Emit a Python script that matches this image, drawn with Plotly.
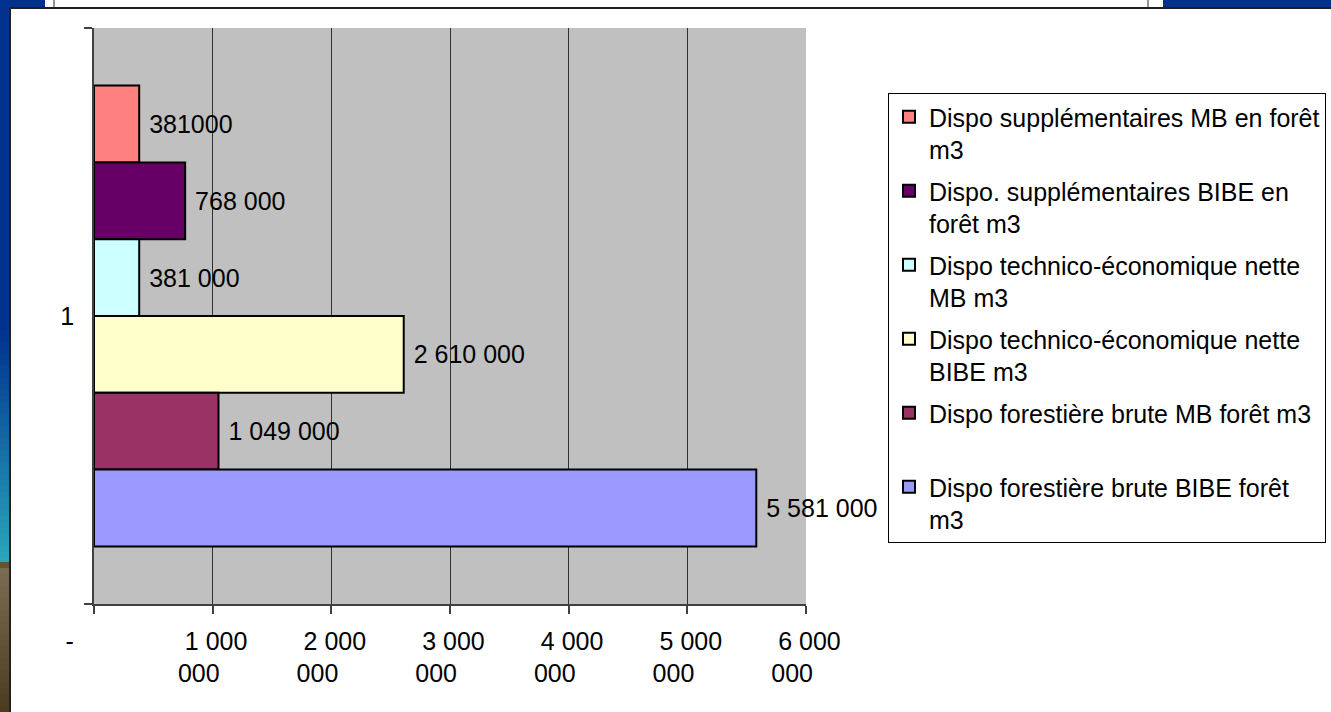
import plotly.graph_objects as go

# ---------------- data ----------------
CATEGORY = ["1"]
SERIES_NAMES = [
    "Dispo supplémentaires MB en forêt<br>m3",
    "Dispo. supplémentaires BIBE en<br>forêt m3",
    "Dispo technico-économique nette<br>MB m3",
    "Dispo technico-économique nette<br>BIBE m3",
    "Dispo forestière brute MB forêt m3<br>\u00a0",
    "Dispo forestière brute BIBE forêt<br>m3",
]
VALUES = [381000, 768000, 381000, 2610000, 1049000, 5581000]
VALUE_LABELS = ["381000", "768 000", "381 000", "2 610 000", "1 049 000", "5 581 000"]
COLORS = ["#FF8080", "#660066", "#CCFFFF", "#FFFFCC", "#993366", "#9999FF"]
X_TICKS = [0, 1000000, 2000000, 3000000, 4000000, 5000000, 6000000]
X_TICK_LABELS = ["-", "1 000 000", "2 000 000", "3 000 000", "4 000 000", "5 000 000", "6 000 000"]

# ---------------- layout constants (pixels) ----------------
W, H = 1331, 712
PL, PR, PT, PB = 94, 806, 28, 604
FONT = "Liberation Sans, Arial, sans-serif"
FS = 25
NB = "\u00a0"


def fmt_tick(lbl):
    if lbl == "-":
        return "-" + NB * 7
    first, rest = lbl[:-4], lbl[-3:]
    return NB + first + "<br>" + rest + NB * 4


def px_x(p):
    return (p - PL) / (PR - PL)


def px_y(p):
    return (PB - p) / (PB - PT)


fig = go.Figure()
for name, val, lab, col in zip(SERIES_NAMES, VALUES, VALUE_LABELS, COLORS):
    fig.add_trace(go.Bar(
        y=CATEGORY, x=[val], orientation="h", name=name,
        marker=dict(color=col, line=dict(color="#000000", width=2)),
        text=[lab], texttemplate=NB + "%{text}", textposition="outside",
        textfont=dict(family=FONT, size=FS, color="#000000"),
        constraintext="none", cliponaxis=False, legendgroup=name,
        hoverinfo="x+name",
    ))

# ---------------- decorative slide frame ----------------
shapes = []


def rect(x0, y0, x1, y1, color):
    shapes.append(dict(type="rect", xref="paper", yref="paper",
                       x0=px_x(x0), x1=px_x(x1), y0=px_y(y0), y1=px_y(y1),
                       fillcolor=color, line=dict(width=0), layer="above"))


def lerp(c1, c2, t):
    a = [int(c1[i:i + 2], 16) for i in (1, 3, 5)]
    b = [int(c2[i:i + 2], 16) for i in (1, 3, 5)]
    return "#%02x%02x%02x" % tuple(round(a[k] + (b[k] - a[k]) * t) for k in range(3))


def gradient(stops, y_start, y_end, step=6):
    y = y_start
    while y < y_end:
        yc = y + step / 2
        col = stops[-1][1]
        for (ya, ca), (yb, cb) in zip(stops[:-1], stops[1:]):
            if ya <= yc <= yb:
                col = lerp(ca, cb, (yc - ya) / (yb - ya))
                break
        rect(0, y, 10, min(y + step, y_end), col)
        y += step


gradient([(0, "#00318E"), (330, "#00318E"), (560, "#29A6BA")], 0, 562)
gradient([(562, "#3F2D10"), (567, "#7A6B52"), (610, "#6E5E44"), (712, "#4A3A1E")], 562, 712)
# top band
rect(0, 0, 45, 8, "#00318E")
rect(1163, 0, W, 8, "#00318E")
for xl in (54, 1148):
    shapes.append(dict(type="line", xref="paper", yref="paper", x0=px_x(xl), x1=px_x(xl),
                       y0=px_y(0), y1=px_y(8), line=dict(color="#707070", width=1.5), layer="above"))
shapes.append(dict(type="line", xref="paper", yref="paper", x0=px_x(10), x1=px_x(W),
                   y0=px_y(8), y1=px_y(8), line=dict(color="#202020", width=2), layer="above"))
shapes.append(dict(type="line", xref="paper", yref="paper", x0=px_x(10), x1=px_x(10),
                   y0=px_y(8), y1=px_y(H), line=dict(color="#202020", width=2), layer="above"))

fig.update_layout(
    width=W, height=H,
    margin=dict(l=PL, r=W - PR, t=PT, b=H - PB, pad=0, autoexpand=False),
    paper_bgcolor="#FFFFFF", plot_bgcolor="#C0C0C0",
    font=dict(family=FONT, size=FS, color="#000000"),
    barmode="group", bargap=0.2, bargroupgap=0,
    showlegend=True,
    legend=dict(
        x=px_x(888), y=px_y(93), xanchor="left", yanchor="top",
        bgcolor="#FFFFFF", bordercolor="#000000", borderwidth=1,
        font=dict(family=FONT, size=FS, color="#000000"),
        valign="top", tracegroupgap=6, traceorder="grouped",
    ),
    shapes=shapes,
    xaxis=dict(
        range=[0, 6000000], tickmode="array", tickvals=X_TICKS,
        ticktext=[fmt_tick(t) for t in X_TICK_LABELS],
        showgrid=True, gridcolor="#303030", gridwidth=1,
        zeroline=False, showline=True, linecolor="#404040", linewidth=1.5,
        ticks="outside", ticklen=8, tickcolor="#404040", tickwidth=1.5,
        ticklabelstandoff=6,
        tickfont=dict(family=FONT, size=FS, color="#000000"),
        fixedrange=True,
    ),
    yaxis=dict(
        type="category", autorange="reversed",
        showgrid=False, zeroline=False, showline=True, linecolor="#404040", linewidth=1.5,
        ticks="outside", ticklen=8, tickcolor="#404040", tickwidth=1.5,
        tickson="boundaries", ticklabelstandoff=13,
        tickfont=dict(family=FONT, size=FS, color="#000000"),
        fixedrange=True,
    ),
)

fig.write_html("out.html", config={"displayModeBar": False},
               post_script="document.body.style.margin='0px';")
